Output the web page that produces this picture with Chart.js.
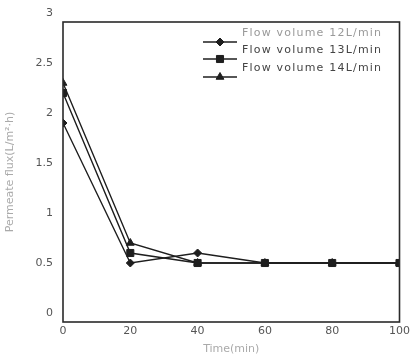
<!DOCTYPE html>
<html>
<head>
<meta charset="utf-8">
<script src="https://cdn.jsdelivr.net/npm/chart.js@4/dist/chart.umd.min.js"></script>
<style>
  html,body{margin:0;padding:0;background:#fff;}
  #c{display:block;}
</style>
</head>
<body>
<canvas id="c" width="413" height="357"></canvas>
<script>
// tempo (min) e fluxo de permeado para cada vazao
const times = [0, 20, 40, 60, 80, 100];
const flux12 = [1.9, 0.5, 0.6, 0.5, 0.5, 0.5];
const flux13 = [2.2, 0.6, 0.5, 0.5, 0.5, 0.5];
const flux14 = [2.3, 0.7, 0.5, 0.5, 0.5, 0.5];
const seriesNames = ['Flow volume 12L/min', 'Flow volume 13L/min', 'Flow volume 14L/min'];
const yTickValues = [0, 0.5, 1, 1.5, 2, 2.5, 3];
const yTickLabels = ['0', '0.5', '1', '1.5', '2', '2.5', '3'];
const xTickLabels = ['0', '20', '40', '60', '80', '100'];

const ink = '#1e1e1e';
const textCol = '#555';

function pts(arr){ return times.map((t,i)=>({x:t, y:arr[i]})); }

function ds(label, arr, style, r){
  return {
    label, data: pts(arr),
    borderColor: ink, backgroundColor: ink, borderWidth: 1.4,
    pointStyle: style, pointRadius: r, pointHoverRadius: r,
    pointBackgroundColor: ink, pointBorderColor: ink, pointBorderWidth: 1,
    tension: 0, fill: false
  };
}

// caixa em volta da area do grafico
const boxPlugin = {
  id: 'box',
  afterDraw(chart){
    const a = chart.chartArea, ctx = chart.ctx;
    ctx.save();
    ctx.strokeStyle = '#2a2a2a';
    ctx.lineWidth = 1.6;
    ctx.strokeRect(a.left, a.top, a.right - a.left, a.bottom - a.top);
    ctx.restore();
  }
};

// legenda dentro do grafico, linha + marcador
const legendPlugin = {
  id: 'inLegend',
  afterDraw(chart){
    const ctx = chart.ctx;
    const x0 = 203, x1 = 237, tx = 242;
    const ys = [42, 59, 77];
    ctx.save();
    chart.data.datasets.forEach((d, i)=>{
      const y = ys[i];
      ctx.strokeStyle = ink; ctx.lineWidth = 1.4;
      ctx.beginPath(); ctx.moveTo(x0, y); ctx.lineTo(x1, y); ctx.stroke();
      ctx.fillStyle = ink; ctx.strokeStyle = ink; ctx.lineWidth = 1;
      Chart.helpers.drawPoint(ctx, {pointStyle: d.pointStyle, radius: d.pointRadius, borderWidth: 1}, (x0 + x1) / 2, y);
      ctx.fillStyle = i === 0 ? '#999' : '#444';
      ctx.font = '11px "DejaVu Sans"';
      ctx.letterSpacing = '1.2px';
      ctx.textBaseline = 'middle';
      ctx.fillText(d.label, tx, y - 9);
    });
    ctx.restore();
  }
};

new Chart(document.getElementById('c').getContext('2d'), {
  type: 'line',
  data: {
    datasets: [
      ds(seriesNames[0], flux12, 'rectRot', 4),
      ds(seriesNames[1], flux13, 'rect', 5),
      ds(seriesNames[2], flux14, 'triangle', 4.5)
    ]
  },
  options: {
    responsive: false,
    animation: false,
    layout: { padding: { left: 0, right: 13, top: 22, bottom: 1 } },
    plugins: { legend: { display: false }, tooltip: { enabled: false } },
    scales: {
      x: {
        type: 'linear', min: 0, max: 100,
        afterBuildTicks(s){ s.ticks = times.map(v=>({value:v})); },
        afterFit(s){ s.height = 34; },
        grid: { display: false, drawTicks: false },
        border: { display: false },
        ticks: {
          padding: 3, color: textCol, font: { family: 'DejaVu Sans', size: 11 },
          maxRotation: 0, autoSkip: false,
          callback: (v, i) => xTickLabels[i]
        },
        title: {
          display: true, text: 'Time(min)', color: '#aaa',
          font: { family: 'DejaVu Sans', size: 11 }, padding: { top: 0, bottom: 0 }
        }
      },
      y: {
        type: 'linear', min: -0.09, max: 2.91,
        afterBuildTicks(s){ s.ticks = yTickValues.map(v=>({value:v})); },
        afterFit(s){ s.width = 63; },
        grid: { display: false, drawTicks: false },
        border: { display: false },
        ticks: {
          padding: 10, color: textCol, font: { family: 'DejaVu Sans', size: 11 },
          autoSkip: false,
          callback: (v, i) => yTickLabels[i]
        },
        title: {
          display: true, text: 'Permeate flux(L/m²·h)', color: '#aaa',
          font: { family: 'DejaVu Sans', size: 11 }, padding: { top: 4, bottom: 0 }
        }
      }
    }
  },
  plugins: [boxPlugin, legendPlugin]
});
</script>
</body>
</html>
